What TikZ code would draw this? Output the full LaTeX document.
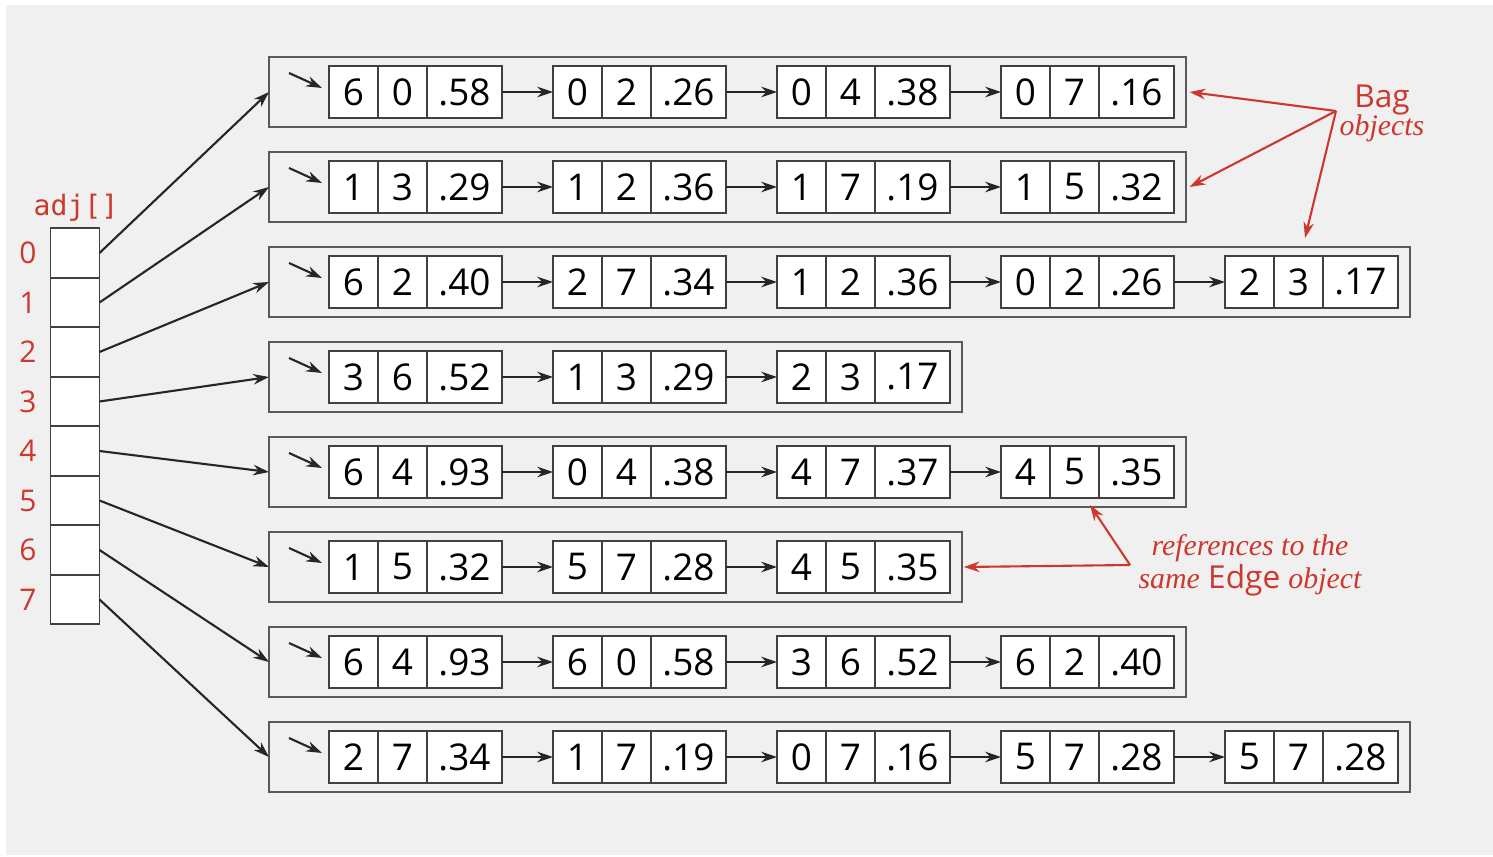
\documentclass[tikz,border=0pt]{standalone}
\usepackage{fontspec}
\setmainfont{Open Sans}
\setmonofont{DejaVu Sans Mono}
\newfontfamily\notefont{Liberation Serif}
\usetikzlibrary{arrows.meta,positioning}
\definecolor{bookred}{RGB}{205,55,45}
\definecolor{pagegray}{RGB}{240,240,240}

\tikzset{
  cell/.style={draw=black!75, fill=white, line width=1.1pt, outer sep=0pt, inner sep=0pt,
    minimum height=1.04cm, minimum width=0.98cm, font=\fontsize{21}{26}\selectfont},
  wcell/.style={cell, minimum width=1.5cm},
  bagbox/.style={draw=black!65, line width=1.6pt, minimum height=1.4cm, inner sep=0pt, outer sep=0pt},
  ptr/.style={-{Stealth[length=9pt,width=6pt]}, line width=1.2pt, black!85},
  idx/.style={text=bookred, font=\fontsize{17}{18}\selectfont},
  note/.style={text=bookred, align=center, font=\fontsize{18}{19}\selectfont},
  notearrow/.style={-{Stealth[length=9pt,width=6pt]}, line width=1.2pt, bookred},
}

\begin{document}
\begin{tikzpicture}[x=0.02cm, y=-0.02cm]
\useasboundingbox (0,0) rectangle (1493,857);
\fill[pagegray] (6,5) rectangle (1493,855);

% the adj[] array
\node[text=bookred, font=\ttfamily\fontsize{16}{18}\selectfont] (adjlbl) at (76,208) {adj[]};
\foreach \i in {0,...,7}
{
  \node[cell, minimum height=0.99cm] (a\i) at (75,{253+49.5*\i}) {};
  \node[idx] (i\i) at (28,{253+49.5*\i}) {\i};
}

% one Bag per vertex
\foreach \r/\n/\edges in {
  0/4/{6/0/.58, 0/2/.26, 0/4/.38, 0/7/.16},
  1/4/{1/3/.29, 1/2/.36, 1/7/.19, 1/5/.32},
  2/5/{6/2/.40, 2/7/.34, 1/2/.36, 0/2/.26, 2/3/.17},
  3/3/{3/6/.52, 1/3/.29, 2/3/.17},
  4/4/{6/4/.93, 0/4/.38, 4/7/.37, 4/5/.35},
  5/3/{1/5/.32, 5/7/.28, 4/5/.35},
  6/4/{6/4/.93, 6/0/.58, 3/6/.52, 6/2/.40},
  7/5/{2/7/.34, 1/7/.19, 0/7/.16, 5/7/.28, 5/7/.28}}
{
  \node[bagbox, anchor=west, minimum width={(21+224*\n)*0.02cm}] (bag\r) at (269,{92+95*\r}) {};
  \foreach \a/\b/\w [count=\k from 0] in \edges
  {
    \node[cell, anchor=west] (\r-\k-v) at ({329+224*\k},{92+95*\r}) {\a};
    \node[cell, right=0pt of \r-\k-v] (\r-\k-u) {\b};
    \node[wcell, right=0pt of \r-\k-u] (\r-\k-w) {\w};
    \ifnum\k>0
      \pgfmathtruncatemacro\prev{\k-1}
      \draw[ptr] (\r-\prev-w) -- (\r-\k-v);
    \fi
  }
  \coordinate (s\r) at (289,{73+95*\r});
  \draw[ptr] (s\r) -- ([shift={(-0.14cm,0.08cm)}]\r-0-v.west);
  \draw[ptr] (a\r.east) -- (bag\r.west);
}

% annotations
\node[note] (bagnote) at (1382,113) {Bag\\[-3pt]{\notefont\itshape\fontsize{17}{19}\selectfont objects}};
\coordinate (bagfork) at (1336,111);
\coordinate (bagtip) at (1305,238);
\draw[notearrow] (bagfork) -- ([xshift=2pt]bag0.east);
\draw[notearrow] (bagfork) -- ([xshift=2pt]bag1.east);
\draw[notearrow] (bagfork) -- (bagtip);

\node[note] (refnote) at (1250,565) {{\notefont\itshape\fontsize{17}{19}\selectfont references to the}\\
  {\notefont\itshape\fontsize{17}{19}\selectfont same} Edge {\notefont\itshape\fontsize{17}{19}\selectfont object}};
\coordinate (reffork) at (1130,565);
\coordinate (reftip) at (1090,505);
\draw[notearrow] (reffork) -- (reftip);
\draw[notearrow] (reffork) -- ([xshift=1pt]bag5.east);
\end{tikzpicture}
\end{document}
